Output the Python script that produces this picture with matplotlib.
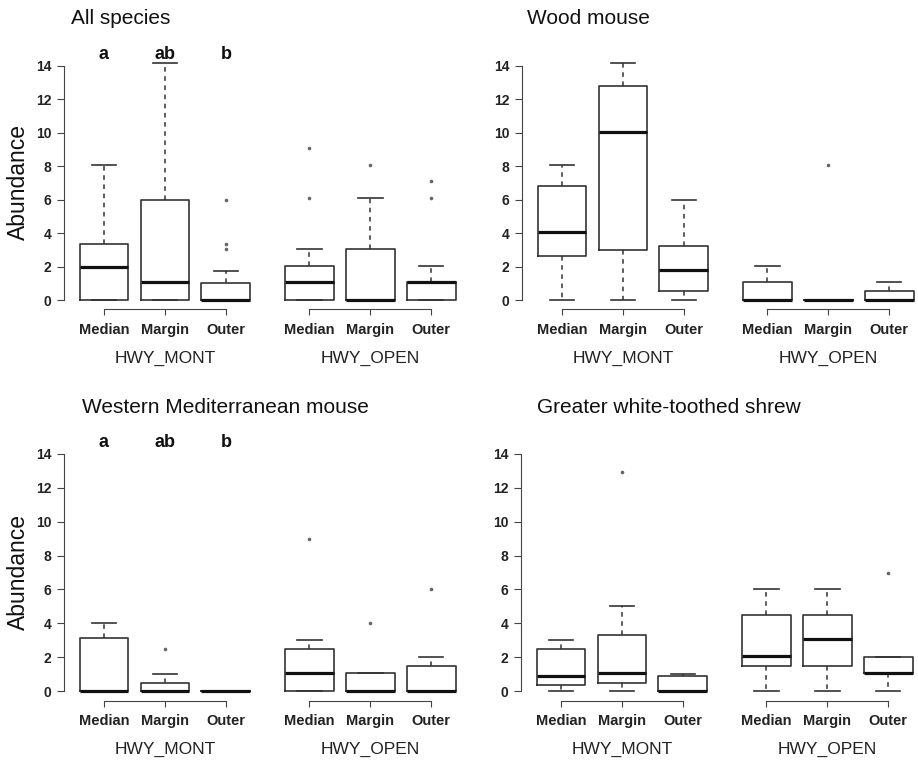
import matplotlib
matplotlib.use("Agg")
import matplotlib.pyplot as plt

plt.rcParams['font.family'] = ['Liberation Sans', 'DejaVu Sans']

# box positions and labels
positions = [1, 2, 3, 4.37, 5.37, 6.37]
zone_labels = ['Median', 'Margin', 'Outer', 'Median', 'Margin', 'Outer']
groups = ['HWY_MONT', 'HWY_OPEN']

# All species
all_q1 = [0, 0, 0, 0, 0, 0]
all_med = [2.0, 1.05, 0.0, 1.1, 0.0, 1.1]
all_q3 = [3.33, 6.0, 1.0, 2.05, 3.05, 1.1]
all_lo = [0, 0, 0, 0, 0, 0]
all_hi = [8.05, 14.2, 1.75, 3.05, 6.1, 2.05]
all_fliers = [[], [], [3.05, 3.35, 6.0], [6.1, 9.1], [8.1], [6.1, 7.1]]

# Wood mouse
wood_q1 = [2.65, 3.0, 0.55, 0, 0, 0]
wood_med = [4.05, 10.05, 1.8, 0, 0, 0]
wood_q3 = [6.8, 12.8, 3.2, 1.05, 0, 0.55]
wood_lo = [0, 0, 0, 0, 0, 0]
wood_hi = [8.05, 14.2, 6.0, 2.05, 0, 1.05]
wood_fliers = [[], [], [], [], [8.1], []]

# Western Mediterranean mouse
wmm_q1 = [0, 0, 0, 0, 0, 0]
wmm_med = [0, 0, 0, 1.08, 0, 0]
wmm_q3 = [3.15, 0.5, 0, 2.5, 1.04, 1.5]
wmm_lo = [0, 0, 0, 0, 0, 0]
wmm_hi = [4.0, 1.02, 0, 3.0, 1.04, 2.0]
wmm_fliers = [[], [2.48], [], [8.95], [4.0], [6.0]]

# Greater white-toothed shrew
shrew_q1 = [0.37, 0.49, 0, 1.47, 1.47, 1.06]
shrew_med = [0.87, 1.06, 0, 2.04, 3.05, 1.06]
shrew_q3 = [2.48, 3.3, 0.9, 4.48, 4.48, 2.0]
shrew_lo = [0, 0, 0, 0, 0, 0]
shrew_hi = [3.0, 5.0, 1.02, 6.0, 6.0, 2.0]
shrew_fliers = [[], [12.95], [], [], [], [6.98]]

letters = ['a', 'ab', 'b']

panels = [
    ("All species", all_q1, all_med, all_q3, all_lo, all_hi, all_fliers, True, True),
    ("Wood mouse", wood_q1, wood_med, wood_q3, wood_lo, wood_hi, wood_fliers, False, False),
    ("Western Mediterranean mouse", wmm_q1, wmm_med, wmm_q3, wmm_lo, wmm_hi, wmm_fliers, True, True),
    ("Greater white-toothed shrew", shrew_q1, shrew_med, shrew_q3, shrew_lo, shrew_hi, shrew_fliers, False, False),
]

# axes rectangles in figure fraction
rects = [
    [0.0697, 0.594, 0.4300, 0.3318],
    [0.5686, 0.594, 0.4300, 0.3318],
    [0.0697, 0.0807, 0.4300, 0.336],
    [0.5675, 0.0807, 0.4300, 0.336],
]
title_xy = [(71, 24), (527, 24), (82, 413), (537, 413)]
ylab_y = [182, 572]

W, H = 918, 762
fig = plt.figure(figsize=(W / 100, H / 100), dpi=100)
edge = '#333333'
axc = '#444444'

for i, (title, q1, med, q3, lo, hi, fl, ylab, show_letters) in enumerate(panels):
    ax = fig.add_axes(rects[i])
    stats = []
    for k in range(6):
        stats.append(dict(q1=q1[k], med=med[k], q3=q3[k], whislo=lo[k],
                          whishi=hi[k], fliers=fl[k]))
    ax.bxp(stats, positions=positions, widths=0.8, capwidths=0.4,
           boxprops=dict(color=edge, linewidth=1.2),
           medianprops=dict(color='#111111', linewidth=2.3),
           whiskerprops=dict(color=edge, linewidth=1.1, linestyle=(0, (3, 3))),
           capprops=dict(color=edge, linewidth=1.2),
           flierprops=dict(marker='o', markersize=2.6, markerfacecolor='#666666',
                           markeredgecolor='none'))
    ax.set_xlim(0.344, 6.82)
    ax.set_ylim(-0.56, 14.56)
    ax.set_yticks(range(0, 15, 2))
    for s in ['top', 'right']:
        ax.spines[s].set_visible(False)
    ax.spines['left'].set_bounds(0, 14)
    ax.spines['left'].set_color(axc)
    ax.spines['bottom'].set_bounds(positions[0], positions[2])
    ax.spines['bottom'].set_color(axc)
    ax.plot([positions[3], positions[5]], [0, 0], color=axc, lw=0.8,
            transform=ax.get_xaxis_transform(), clip_on=False)
    ax.set_xticks(positions)
    ax.set_xticklabels(zone_labels)
    ax.tick_params(axis='y', length=5, width=0.8, color=axc, pad=4,
                   labelsize=10)
    ax.tick_params(axis='x', length=4, width=0.8, color=axc, pad=6,
                   labelsize=10.5)
    for lab in ax.get_yticklabels() + ax.get_xticklabels():
        lab.set_fontweight('bold')
        lab.set_color('#222222')
        lab.set_fontstretch('condensed')
    for g, gx in zip(groups, [positions[1], positions[4]]):
        ax.annotate(g, xy=(gx, 0), xycoords=('data', 'axes fraction'),
                    xytext=(0, -35), textcoords='offset points',
                    ha='center', va='center', fontsize=12.5, color='#222222')
    if show_letters:
        for lt, px in zip(letters, positions[:3]):
            ax.text(px, 14.42, lt, ha='center', va='baseline', fontsize=13,
                    fontweight='bold', color='#111111', clip_on=False)
    tx, ty = title_xy[i]
    fig.text(tx / W, 1 - ty / H, title, ha='left', va='baseline',
             fontsize=15, color='#111111')
    if ylab:
        fig.text(18.5 / W, 1 - ylab_y[i // 2] / H, 'Abundance', rotation=90,
                 ha='center', va='center', fontsize=16.5, color='#111111')

fig.savefig('out.png', dpi=100)
